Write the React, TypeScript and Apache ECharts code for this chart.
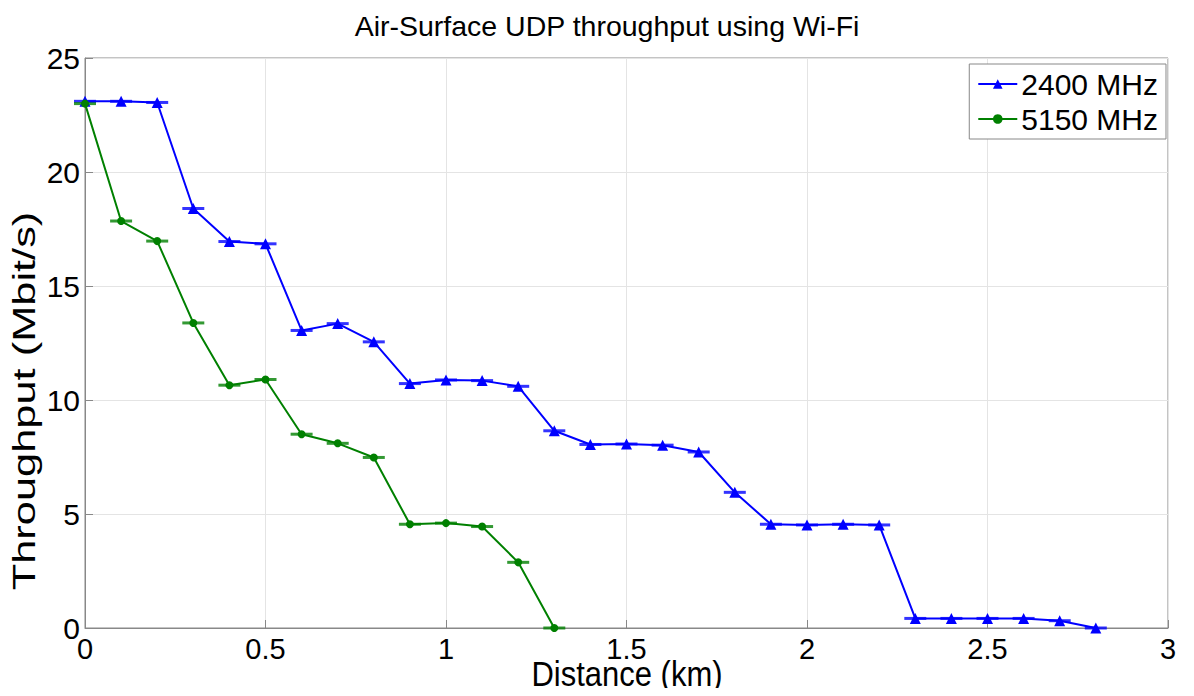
import React, { useEffect, useRef } from "react";
import * as echarts from "echarts";

const distances = [0, 0.1, 0.2, 0.3, 0.4, 0.5, 0.6, 0.7, 0.8, 0.9, 1.0, 1.1, 1.2, 1.3, 1.4, 1.5, 1.6, 1.7, 1.8, 1.9, 2.0, 2.1, 2.2, 2.3, 2.4, 2.5, 2.6, 2.7, 2.8];
const wifi2400 = [23.1, 23.1, 23.05, 18.4, 16.95, 16.85, 13.05, 13.35, 12.55, 10.72, 10.88, 10.85, 10.6, 8.65, 8.05, 8.07, 8.02, 7.72, 5.95, 4.55, 4.52, 4.55, 4.52, 0.42, 0.42, 0.42, 0.42, 0.32, 0.0];
const wifi5150 = [23.0, 17.85, 16.97, 13.38, 10.65, 10.9, 8.5, 8.1, 7.48, 4.55, 4.6, 4.45, 2.88, 0.0];
const seriesNames = ["2400 MHz", "5150 MHz"];
const titleText = "Air-Surface UDP throughput using Wi-Fi";
const xName = "Distance (km)";
const yName = "Throughput (Mbit/s)";
const xTicks = { min: 0, max: 3, interval: 0.5 };
const yTicks = { min: 0, max: 25, interval: 5 };

const FONT = "Liberation Sans";

export default function App() {
  const ref = useRef<HTMLDivElement>(null);
  useEffect(() => {
    const chart = echarts.init(ref.current!, null, { renderer: "svg" });
    const d1 = wifi2400.map((v, i) => [distances[i], v]);
    const d2 = wifi5150.map((v, i) => [distances[i], v]);
    const cap = (data: number[][], color: string, name: string) => ({
      type: "scatter",
      name: name + "-cap",
      data,
      symbol: "rect",
      symbolSize: [22, 3],
      itemStyle: { color },
      silent: true,
      z: 2,
    });
    chart.setOption({
      animation: false,
      backgroundColor: "#fff",
      textStyle: { fontFamily: FONT },
      title: {
        text: titleText,
        left: 602,
        textAlign: "center",
        top: 6,
        textStyle: { fontFamily: FONT, fontSize: 28.5, fontWeight: "normal", color: "#000" },
      },
      grid: { left: 85, right: 26, top: 58, bottom: 68, show: true, borderColor: "#888", borderWidth: 1 },
      legend: {
        data: seriesNames,
        orient: "vertical",
        right: 28,
        top: 64,
        itemWidth: 39,
        itemHeight: 12,
        itemGap: 5,
        padding: [5, 8, 5, 8],
        borderColor: "#888",
        borderWidth: 1,
        borderRadius: 0,
        backgroundColor: "#fff",
        textStyle: { fontFamily: FONT, fontSize: 30, color: "#000", lineHeight: 30, padding: [0, 0, 0, -1] },
      },
      graphic: [
        {
          type: "text",
          x: 24,
          y: 401,
          rotation: Math.PI / 2,
          scaleX: 1.4,
          style: {
            text: yName,
            fontFamily: FONT,
            fontSize: 31,
            fill: "#000",
            textAlign: "center",
            textVerticalAlign: "middle",
          },
        },
        {
          type: "text",
          x: 627,
          y: 674,
          scaleY: 1.15,
          style: {
            text: xName,
            fontFamily: FONT,
            fontSize: 31,
            fill: "#000",
            textAlign: "center",
            textVerticalAlign: "middle",
          },
        },
      ],
      xAxis: {
        type: "value",
        ...xTicks,
        axisLine: { show: true, lineStyle: { color: "#888" } },
        axisTick: { show: true, inside: true, length: 8, lineStyle: { color: "#888" } },
        axisLabel: { fontFamily: FONT, fontSize: 29, color: "#000", margin: 6 },
        splitLine: { show: true, lineStyle: { color: "#e4e4e4", width: 1 } },
      },
      yAxis: {
        type: "value",
        ...yTicks,
        axisLine: { show: true, lineStyle: { color: "#888" } },
        axisTick: { show: true, inside: true, length: 8, lineStyle: { color: "#888" } },
        axisLabel: { fontFamily: FONT, fontSize: 30, color: "#000", margin: 5 },
        splitLine: { show: true, lineStyle: { color: "#e4e4e4", width: 1 } },
      },
      series: [
        {
          type: "line",
          name: seriesNames[0],
          data: d1,
          symbol: "triangle",
          symbolSize: 11,
          showAllSymbol: true,
          lineStyle: { color: "#0000ff", width: 2 },
          itemStyle: { color: "#0000ff" },
          z: 3,
        },
        {
          type: "line",
          name: seriesNames[1],
          data: d2,
          symbol: "circle",
          symbolSize: 8,
          showAllSymbol: true,
          lineStyle: { color: "#008000", width: 2 },
          itemStyle: { color: "#008000" },
          z: 3,
        },
        cap(d1, "#0000ff", seriesNames[0]),
        cap(d2, "#008000", seriesNames[1]),
      ],
    });
    return () => chart.dispose();
  }, []);
  return <div ref={ref} style={{ width: 1194, height: 696, margin: -8 }} />;
}
